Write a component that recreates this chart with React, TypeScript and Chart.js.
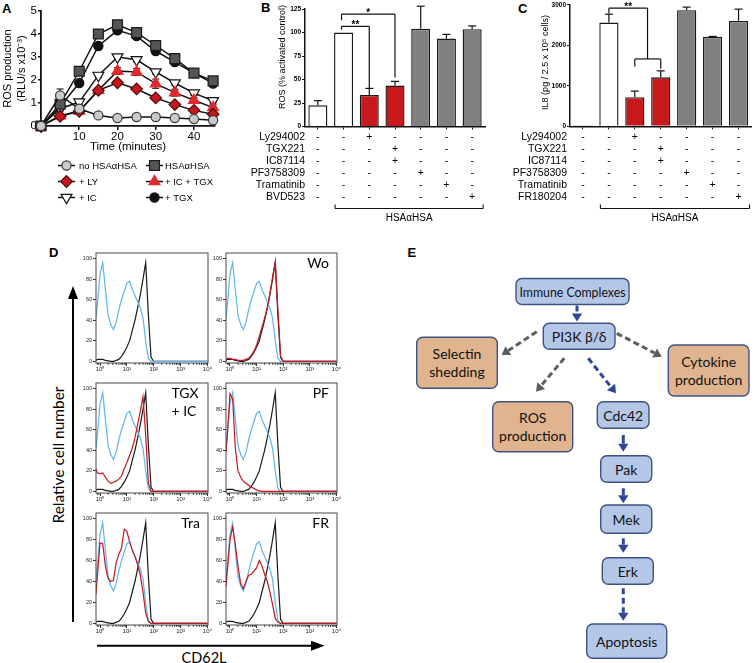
import React, { useEffect, useRef } from 'react';
import { Chart, registerables } from 'chart.js';

Chart.register(...registerables);

const SANS = '"Liberation Sans", Arial, Helvetica, sans-serif';
const HUM = 'Lato, "Open Sans", "DejaVu Sans", sans-serif';

// ================= Panel A data =================
const A_TIME = [0, 5, 10, 15, 20, 25, 30, 35, 40, 45];
const A_NO_HSA = [0, 1.33, 0.75, 0.46, 0.35, 0.39, 0.39, 0.35, 0.3, 0.25];
const A_NO_HSA_ERR = [0, 0.28, 0.1, 0.05, 0.04, 0.04, 0.04, 0.04, 0.04, 0.04];
const A_HSA = [0, 0.95, 2.38, 4.0, 4.4, 4.06, 3.5, 2.93, 2.3, 1.96];
const A_HSA_ERR = [0, 0.15, 0.15, 0.15, 0.12, 0.12, 0.12, 0.12, 0.12, 0.15];
const A_LY = [0, 0.42, 0.64, 1.55, 1.88, 1.61, 1.22, 0.93, 0.68, 0.51];
const A_LY_ERR = [0, 0.05, 0.08, 0.1, 0.1, 0.1, 0.1, 0.08, 0.06, 0.05];
const A_ICTGX = [0, 0.45, 0.65, 1.55, 2.39, 2.35, 1.84, 1.45, 1.12, 0.8];
const A_ICTGX_ERR = [0, 0.05, 0.08, 0.12, 0.15, 0.15, 0.2, 0.15, 0.12, 0.12];
const A_IC = [0, 0.75, 1.04, 2.2, 3.0, 2.88, 2.35, 1.87, 1.43, 1.1];
const A_IC_ERR = [0, 0.1, 0.1, 0.1, 0.1, 0.1, 0.1, 0.1, 0.1, 0.1];
const A_TGX = [0, 0.85, 1.87, 3.48, 4.16, 3.91, 3.26, 2.78, 2.3, 1.85];
const A_TGX_ERR = [0, 0.1, 0.08, 0.12, 0.12, 0.1, 0.12, 0.1, 0.1, 0.1];
const A_Y_TICKS = [0, 1, 2, 3, 4, 5];
const A_X_TICKS = [10, 20, 30, 40];

// ================= Panel B / C data =================
const BAR_CATS = ['Control', 'HSAαHSA', '+ Ly294002', '+ TGX221 + IC87114', '+ PF3758309', '+ Tramatinib', '+ MEK/ERK inhibitor'];
const B_VALUES = [22.5, 100, 33.5, 43.5, 104, 93.5, 103.5];
const B_ERRS = [5, 0, 7, 4.5, 24, 4.5, 3.5];
const B_Y_TICKS = [0, 25, 50, 75, 100, 125];
const C_VALUES = [25, 2565, 720, 1210, 2870, 2210, 2605];
const C_ERRS = [0, 205, 150, 160, 75, 10, 290];
const C_Y_TICKS = [0, 1000, 2000, 3000];
const B_TREAT_NAMES = ['Ly294002', 'TGX221', 'IC87114', 'PF3758309', 'Tramatinib', 'BVD523'];
const C_TREAT_NAMES = ['Ly294002', 'TGX221', 'IC87114', 'PF3758309', 'Tramatinib', 'FR180204'];
const TREAT_MATRIX = [
  [0, 0, 1, 0, 0, 0, 0],
  [0, 0, 0, 1, 0, 0, 0],
  [0, 0, 0, 1, 0, 0, 0],
  [0, 0, 0, 0, 1, 0, 0],
  [0, 0, 0, 0, 0, 1, 0],
  [0, 0, 0, 0, 0, 0, 1],
];
// significance brackets: [xFrom, xTo, yLine, dropFrom, dropTo, label]
const B_SIG = [
  [0.92, 2, 106.5, 103, 40, '**'],
  [0.92, 3, 119.5, 113, 52, '*'],
];
const C_SIG = [
  [1, 2.49, 2920, 2790, 1665, '**'],
  [2, 3, 1665, 1480, 1420, ''],
];

// ================= Panel D data =================
const D_X = [-0.15, -0.1, 0, 0.1, 0.2, 0.3, 0.4, 0.5, 0.6, 0.7, 0.8, 0.9, 1.0, 1.1, 1.2, 1.3, 1.4, 1.5, 1.6, 1.7, 1.8, 1.9, 2.0, 2.1, 2.2, 4.0];
const D_BLUE = [42, 55, 85, 96, 70, 45, 36, 31, 38, 50, 60, 68, 76, 78, 70, 64, 58, 52, 42, 20, 3, 0, 0, 0, 0, 0];
const D_BLACK = [1, 2, 2, 2, 1, 0.5, 0, 0, 1, 2, 5, 9, 14, 20, 30, 40, 52, 65, 80, 96, 45, 4, 0, 0, 0, 0];
const D_RED_WO = [2, 3, 3, 2, 2, 1, 1, 1, 2, 3, 6, 10, 16, 24, 33, 42, 52, 66, 82, 97, 50, 5, 0, 0, 0, 0];
const D_RED_TGX = [22, 18, 17, 18, 14, 10, 8, 9, 10, 12, 15, 22, 28, 35, 42, 52, 65, 78, 92, 55, 8, 0, 0, 0, 0, 0];
const D_RED_PF = [38, 55, 95, 90, 42, 20, 14, 10, 8, 6, 4, 3, 1.5, 0.5, 0, 0, 0, 0, 0, 0, 0, 0, 0, 0, 0, 0];
const D_RED_TRA = [28, 45, 77, 76, 55, 43, 40, 41, 58, 66, 72, 90, 88, 78, 70, 64, 56, 46, 30, 10, 2, 0, 0, 0, 0, 0];
const D_RED_FR = [35, 50, 80, 92, 75, 55, 38, 33, 40, 46, 47, 50, 53, 60, 55, 47, 40, 30, 18, 5, 1, 0, 0, 0, 0, 0];
const D_Y_TICKS = [0, 20, 40, 60, 80, 100];
const D_X_TICKS = [0, 1, 2, 3, 4];
const D_X_LABELS = ['10⁰', '10¹', '10²', '10³', '10⁴'];
const D_PANEL_LABELS = [[''], ['Wo'], ['TGX', '+ IC'], ['PF'], ['Tra'], ['FR']];
const D_REDS = [null, D_RED_WO, D_RED_TGX, D_RED_PF, D_RED_TRA, D_RED_FR];

// ================= Panel E content =================
const E_LABELS = [
  ['Immune Complexes'], ['PI3K β/δ'], ['Selectin', 'shedding'], ['Cytokine', 'production'],
  ['ROS', 'production'], ['Cdc42'], ['Pak'], ['Mek'], ['Erk'], ['Apoptosis'],
];

// ---------------- layout / style (not data) ----------------
const BLUE_FILL = '#b4c7e7';
const ORANGE_FILL = '#dfb48f';
const BOX_STROKE = '#3e5383';
const ARROW_BLUE = '#2f4896';
const ARROW_GRAY = '#5e5e5e';
const E_BOXES = [
  { x: 516, y: 278.5, w: 113, h: 26, fill: BLUE_FILL, tl: 106 },
  { x: 543.3, y: 323.3, w: 71.7, h: 26, fill: BLUE_FILL, tl: 0 },
  { x: 416.7, y: 337.3, w: 80.6, h: 51, fill: ORANGE_FILL, tl: 0 },
  { x: 668.3, y: 345, w: 80.7, h: 51, fill: ORANGE_FILL, tl: 0 },
  { x: 492.7, y: 401.7, w: 80, h: 50, fill: ORANGE_FILL, tl: 0 },
  { x: 597.3, y: 401.7, w: 51.7, h: 26.6, fill: BLUE_FILL, tl: 0 },
  { x: 600.7, y: 455.7, w: 51, h: 26.6, fill: BLUE_FILL, tl: 0 },
  { x: 600.7, y: 505, w: 51, h: 28.3, fill: BLUE_FILL, tl: 0 },
  { x: 602.3, y: 557.7, w: 51, h: 26.6, fill: BLUE_FILL, tl: 0 },
  { x: 586.7, y: 624, w: 80, h: 34.3, fill: BLUE_FILL, tl: 0 },
];
const E_ARROWS = [
  { x1: 577, y1: 305.5, x2: 577, y2: 321.5, c: ARROW_BLUE, dash: true },
  { x1: 536.7, y1: 331.7, x2: 501.7, y2: 355, c: ARROW_GRAY, dash: true },
  { x1: 616.7, y1: 333.3, x2: 661.7, y2: 356.7, c: ARROW_GRAY, dash: true },
  { x1: 564.3, y1: 358.3, x2: 536, y2: 391.7, c: ARROW_GRAY, dash: true },
  { x1: 588.3, y1: 358.3, x2: 616, y2: 393.3, c: ARROW_BLUE, dash: true },
  { x1: 623.3, y1: 435, x2: 623.3, y2: 451.7, c: ARROW_BLUE, dash: false },
  { x1: 623.3, y1: 488.3, x2: 623.3, y2: 503.3, c: ARROW_BLUE, dash: false },
  { x1: 623.3, y1: 538.3, x2: 623.3, y2: 552.7, c: ARROW_BLUE, dash: false },
  { x1: 623.3, y1: 588.3, x2: 623.3, y2: 620.7, c: ARROW_BLUE, dash: true },
];
const D_FRAMES = [
  { x: 96, y: 253, w: 112, h: 110 },
  { x: 226, y: 253, w: 111, h: 110 },
  { x: 96, y: 382.5, w: 112, h: 110.5 },
  { x: 226, y: 383, w: 111, h: 110 },
  { x: 96, y: 513, w: 112, h: 112 },
  { x: 226, y: 513, w: 111, h: 112 },
];

function drawMarker(ctx: CanvasRenderingContext2D, style: string, x: number, y: number, r: number, rotDeg: number, fill: string, stroke: string, lw: number) {
  ctx.save();
  ctx.beginPath();
  if (style === 'circle') {
    ctx.arc(x, y, r, 0, Math.PI * 2);
  } else if (style === 'rect') {
    const s = r * Math.SQRT1_2;
    ctx.rect(x - s, y - s, 2 * s, 2 * s);
  } else if (style === 'rectRot') {
    ctx.moveTo(x - r, y); ctx.lineTo(x, y - r); ctx.lineTo(x + r, y); ctx.lineTo(x, y + r); ctx.closePath();
  } else {
    let a = (rotDeg * Math.PI) / 180;
    for (let k = 0; k < 3; k++) {
      const px = x + Math.sin(a) * r, py = y - Math.cos(a) * r;
      if (k === 0) ctx.moveTo(px, py); else ctx.lineTo(px, py);
      a += (2 * Math.PI) / 3;
    }
    ctx.closePath();
  }
  ctx.fillStyle = fill; ctx.fill();
  ctx.lineWidth = lw; ctx.strokeStyle = stroke; ctx.stroke();
  ctx.restore();
}

function seg(ctx: CanvasRenderingContext2D, x1: number, y1: number, x2: number, y2: number) {
  ctx.beginPath(); ctx.moveTo(x1, y1); ctx.lineTo(x2, y2); ctx.stroke();
}

function ticksFrom(vals: number[]) {
  return (s: any) => { s.ticks = vals.map((v) => ({ value: v })); };
}

// ================= Chart builders =================
function makeA(canvas: HTMLCanvasElement) {
  const series = [
    { label: 'no HSAαHSA', data: A_NO_HSA, err: A_NO_HSA_ERR, style: 'circle', r: 4.6, rot: 0, fill: '#c9c9c9', stroke: '#3a3a3a' },
    { label: 'HSAαHSA', data: A_HSA, err: A_HSA_ERR, style: 'rect', r: 7, rot: 0, fill: '#555555', stroke: '#1c1c1c' },
    { label: '+ LY', data: A_LY, err: A_LY_ERR, style: 'rectRot', r: 5.8, rot: 0, fill: '#c8171d', stroke: '#4d0b0b' },
    { label: '+ IC + TGX', data: A_ICTGX, err: A_ICTGX_ERR, style: 'triangle', r: 6.3, rot: 0, fill: '#e0282d', stroke: '#e0282d' },
    { label: '+ IC', data: A_IC, err: A_IC_ERR, style: 'triangle', r: 6.3, rot: 180, fill: '#ffffff', stroke: '#111111' },
    { label: '+ TGX', data: A_TGX, err: A_TGX_ERR, style: 'circle', r: 4.6, rot: 0, fill: '#111111', stroke: '#111111' },
  ];
  const legendGrid = [[0, 0, 0], [1, 1, 0], [2, 0, 1], [3, 1, 1], [4, 0, 2], [5, 1, 2]];
  const plugin = {
    id: 'aExtras',
    beforeDatasetsDraw(chart: any) {
      const { ctx, scales } = chart;
      ctx.save();
      ctx.strokeStyle = '#111'; ctx.lineWidth = 1.1;
      series.forEach((s) => {
        s.data.forEach((v, j) => {
          const e = s.err[j]; if (!e) return;
          const x = scales.x.getPixelForValue(A_TIME[j]);
          const yt = scales.y.getPixelForValue(v + e), yb = scales.y.getPixelForValue(Math.max(0, v - e));
          seg(ctx, x, yt, x, yb); seg(ctx, x - 3.5, yt, x + 3.5, yt); seg(ctx, x - 3.5, yb, x + 3.5, yb);
        });
      });
      ctx.restore();
    },
    afterDraw(chart: any) {
      const { ctx, chartArea } = chart;
      ctx.save();
      ctx.fillStyle = '#000';
      ctx.font = `11px ${SANS}`;
      ctx.textAlign = 'center'; ctx.textBaseline = 'middle';
      const cy = (chartArea.top + chartArea.bottom) / 2;
      ctx.save(); ctx.translate(8, cy); ctx.rotate(-Math.PI / 2); ctx.fillText('ROS production', 0, 0); ctx.restore();
      ctx.save(); ctx.translate(22, cy); ctx.rotate(-Math.PI / 2); ctx.fillText('(RLU/s x10⁻³)', 0, 0); ctx.restore();
      ctx.font = `11.5px ${SANS}`;
      ctx.fillText('Time (minutes)', (chartArea.left + chartArea.right) / 2 + 0, 146.5);
      // legend
      const colLine = [[58, 75], [146, 163]];
      const colText = [79, 165];
      const rowY = [165.5, 181.5, 197.5];
      ctx.font = `9.5px ${SANS}`;
      ctx.textAlign = 'left';
      legendGrid.forEach(([i, c, r]) => {
        const s = series[i];
        const y = rowY[r];
        ctx.strokeStyle = '#111'; ctx.lineWidth = 1.5;
        seg(ctx, colLine[c][0], y, colLine[c][1], y);
        drawMarker(ctx, s.style, (colLine[c][0] + colLine[c][1]) / 2, y, s.r, s.rot, s.fill, s.stroke, 1.2);
        ctx.fillStyle = '#000';
        ctx.fillText(s.label, colText[c], y + 0.5);
      });
      ctx.restore();
    },
  };
  return new Chart(canvas, {
    type: 'line',
    data: {
      datasets: series.map((s) => ({
        label: s.label,
        data: A_TIME.map((t, j) => ({ x: t, y: s.data[j] })),
        borderColor: '#111', borderWidth: 1.5,
        pointStyle: s.style as any, pointRadius: s.r, pointRotation: s.rot,
        pointBackgroundColor: s.fill, pointBorderColor: s.stroke, pointBorderWidth: 1.2,
        clip: false as any, tension: 0,
      })),
    },
    options: {
      animation: false, responsive: false, devicePixelRatio: 1,
      layout: { padding: { left: 0, right: 25, top: 11, bottom: 0 }, autoPadding: false } as any,
      plugins: { legend: { display: false }, tooltip: { enabled: false } },
      scales: {
        x: {
          type: 'linear', min: 0, max: 45.5,
          afterBuildTicks: ticksFrom(A_X_TICKS) as any,
          afterFit: (s: any) => { s.height = 86; },
          grid: { drawOnChartArea: false, drawTicks: true, tickLength: 4, color: '#111', lineWidth: 1.5 },
          border: { color: '#111', width: 1.8 },
          ticks: { color: '#000', font: { family: SANS, size: 11.5 }, padding: 0, maxRotation: 0 },
        },
        y: {
          min: 0, max: 5,
          afterBuildTicks: ticksFrom(A_Y_TICKS) as any,
          afterFit: (s: any) => { s.width = 41; },
          grid: { drawOnChartArea: false, drawTicks: true, tickLength: 3, color: '#111', lineWidth: 1.5 },
          border: { color: '#111', width: 1.8 },
          ticks: { color: '#000', font: { family: SANS, size: 11.5 }, padding: 1 },
        },
      },
    },
    plugins: [plugin],
  } as any);
}

function makeBar(canvas: HTMLCanvasElement, spec: any) {
  const plugin = {
    id: 'barExtras',
    afterDatasetsDraw(chart: any) {
      const { ctx, scales, chartArea } = chart;
      const xs = scales.x, ys = scales.y;
      ctx.save();
      ctx.strokeStyle = '#111'; ctx.lineWidth = 1.2;
      spec.values.forEach((v: number, i: number) => {
        const e = spec.errs[i]; if (!e) return;
        const x = xs.getPixelForValue(i);
        const y0 = ys.getPixelForValue(v), y1 = ys.getPixelForValue(v + e);
        seg(ctx, x, y0, x, y1); seg(ctx, x - 4, y1, x + 4, y1);
      });
      // significance
      ctx.lineWidth = 1.2;
      spec.sig.forEach((s: any[]) => {
        const xa = xs.getPixelForValue(s[0]), xb = xs.getPixelForValue(s[1]);
        const yl = ys.getPixelForValue(s[2]);
        seg(ctx, xa, yl, xb, yl);
        seg(ctx, xa, yl, xa, ys.getPixelForValue(s[3]));
        seg(ctx, xb, yl, xb, ys.getPixelForValue(s[4]));
        if (s[5]) {
          ctx.fillStyle = '#000'; ctx.font = `bold 10px ${SANS}`; ctx.textAlign = 'center'; ctx.textBaseline = 'alphabetic';
          ctx.fillText(s[5], (xa + xb) / 2, yl + 2);
        }
      });
      // y title
      ctx.fillStyle = '#000';
      ctx.font = `9px ${SANS}`; ctx.textAlign = 'center'; ctx.textBaseline = 'middle';
      ctx.save(); ctx.translate(spec.titleX, spec.titleY); ctx.rotate(-Math.PI / 2); ctx.fillText(spec.title, 0, 0); ctx.restore();
      // treatment table
      ctx.font = `10.5px ${SANS}`;
      spec.names.forEach((name: string, r: number) => {
        const y = 137 + r * 12;
        ctx.textAlign = 'right';
        ctx.fillText(name, chartArea.left + spec.nameOffset, y);
        ctx.textAlign = 'center';
        TREAT_MATRIX[r].forEach((on, i) => ctx.fillText(on ? '+' : '-', xs.getPixelForValue(i), y));
      });
      // HSAaHSA bracket
      const bl = xs.getPixelForValue(1) - 8.5, br = xs.getPixelForValue(6) + 11;
      ctx.lineWidth = 1.1;
      seg(ctx, bl, 208.5, br, 208.5); seg(ctx, bl, 204.5, bl, 208.5); seg(ctx, br, 204.5, br, 208.5);
      ctx.font = `10px ${SANS}`;
      ctx.fillText('HSAαHSA', (bl + br) / 2, 218.5);
      ctx.restore();
    },
  };
  return new Chart(canvas, {
    type: 'bar',
    data: {
      labels: BAR_CATS,
      datasets: [{
        data: spec.values,
        backgroundColor: spec.colors, borderColor: '#1a1a1a', borderWidth: 1.4,
        barPercentage: 0.74, categoryPercentage: 1,
      }],
    },
    options: {
      animation: false, responsive: false, devicePixelRatio: 1,
      layout: { padding: { left: 0, right: spec.padRight, top: spec.padTop, bottom: 0 }, autoPadding: false } as any,
      plugins: { legend: { display: false }, tooltip: { enabled: false } },
      scales: {
        x: {
          type: 'category', offset: true,
          afterFit: (s: any) => { s.height = spec.xH; },
          grid: { offset: false, drawOnChartArea: false, drawTicks: true, tickLength: 3, color: '#111', lineWidth: 1 },
          border: { color: '#111', width: 1.5 },
          ticks: { display: false },
        },
        y: {
          min: 0, max: spec.max,
          afterBuildTicks: ticksFrom(spec.yTicks) as any,
          afterFit: (s: any) => { s.width = 65; },
          grid: { drawOnChartArea: false, drawTicks: true, tickLength: 3, color: '#111', lineWidth: 1 },
          border: { color: '#111', width: 1.5 },
          ticks: { color: '#000', font: { family: SANS, size: 6.5, weight: 'bold' }, padding: 1, callback: (v: any) => String(v) },
        },
      },
    },
    plugins: [plugin],
  } as any);
}

function makeHist(canvas: HTMLCanvasElement, idx: number) {
  const red = D_REDS[idx];
  const mk = (arr: number[], color: string) => ({
    data: D_X.map((x, i) => ({ x, y: arr[i] })), borderColor: color, borderWidth: 1.2,
    pointRadius: 0, tension: 0, fill: false,
  });
  const datasets: any[] = [];
  if (red) datasets.push(mk(red, '#c4161c'));
  datasets.push(mk(D_BLUE, '#5fb5ec'));
  datasets.push(mk(D_BLACK, '#1b1b1b'));
  const labels = D_PANEL_LABELS[idx];
  const plugin = {
    id: 'histExtras',
    afterDraw(chart: any) {
      const { ctx, chartArea, scales } = chart;
      ctx.save();
      ctx.strokeStyle = '#4a4a4a'; ctx.lineWidth = 1;
      ctx.strokeRect(chartArea.left, chartArea.top, chartArea.right - chartArea.left, chartArea.bottom - chartArea.top);
      // minor log ticks
      ctx.strokeStyle = '#333';
      for (let n = -1; n < 4; n++) {
        for (let k = 2; k <= 9; k++) {
          const v = n + Math.log10(k);
          if (v < scales.x.min || v > scales.x.max) continue;
          const x = scales.x.getPixelForValue(v);
          seg(ctx, x, chartArea.bottom, x, chartArea.bottom + 1.8);
        }
      }
      ctx.fillStyle = '#000';
      ctx.font = `14px ${HUM}`;
      ctx.textBaseline = 'alphabetic';
      if (labels.length === 1) {
        ctx.textAlign = 'right';
        ctx.fillText(labels[0], chartArea.right - 8, chartArea.top + 15);
      } else {
        ctx.textAlign = 'left';
        labels.forEach((t, i) => ctx.fillText(t, chartArea.right - 36.5, chartArea.top + 14.5 + i * 18.5));
      }
      ctx.restore();
    },
  };
  return new Chart(canvas, {
    type: 'line',
    data: { datasets },
    options: {
      animation: false, responsive: false, devicePixelRatio: 1,
      layout: { padding: { left: 0, right: 6, top: 6, bottom: 0 }, autoPadding: false } as any,
      plugins: { legend: { display: false }, tooltip: { enabled: false } },
      scales: {
        x: {
          type: 'linear', min: -0.15, max: 4.02,
          afterBuildTicks: ticksFrom(D_X_TICKS) as any,
          afterFit: (s: any) => { s.height = 14; },
          grid: { drawOnChartArea: false, drawTicks: true, tickLength: 3, color: '#333', lineWidth: 1 },
          border: { display: false },
          ticks: { color: '#222', font: { family: SANS, size: 6 }, padding: 0, maxRotation: 0, callback: (v: any) => D_X_LABELS[Math.round(v)] },
        },
        y: {
          min: -1.5, max: 105.4,
          afterBuildTicks: ticksFrom(D_Y_TICKS) as any,
          afterFit: (s: any) => { s.width = 28; },
          grid: { drawOnChartArea: false, drawTicks: true, tickLength: 3, color: '#333', lineWidth: 1 },
          border: { display: false },
          ticks: { color: '#222', font: { family: SANS, size: 5.5 }, padding: 1 },
        },
      },
    },
    plugins: [plugin],
  } as any);
}

function Arrow(p: any) {
  const { x1, y1, x2, y2, c, dash } = p;
  const head = 8, hw = 5.2;
  const dx = x2 - x1, dy = y2 - y1, L = Math.hypot(dx, dy);
  const ux = dx / L, uy = dy / L;
  const bx = x2 - ux * head, by = y2 - uy * head;
  const px = -uy, py = ux;
  return (
    <g>
      <line x1={x1} y1={y1} x2={bx} y2={by} stroke={c} strokeWidth={3} strokeDasharray={dash ? '6 3.5' : undefined} />
      <polygon points={`${x2},${y2} ${bx + px * hw},${by + py * hw} ${bx - px * hw},${by - py * hw}`} fill={c} />
    </g>
  );
}

export default function App() {
  const aRef = useRef<HTMLCanvasElement>(null);
  const bRef = useRef<HTMLCanvasElement>(null);
  const cRef = useRef<HTMLCanvasElement>(null);
  const dRefs = useRef<(HTMLCanvasElement | null)[]>([]);

  useEffect(() => {
    const charts: Chart[] = [];
    charts.push(makeA(aRef.current!));
    charts.push(makeBar(bRef.current!, {
      values: B_VALUES, errs: B_ERRS, sig: B_SIG, max: 125, yTicks: B_Y_TICKS,
      colors: ['#ffffff', '#ffffff', '#c8191d', '#c8191d', '#808080', '#808080', '#808080'],
      names: B_TREAT_NAMES, nameOffset: 0, title: 'ROS (% activated control)', titleX: 42.7, titleY: 57,
      padRight: 20, padTop: 9, xH: 98.5,
    }));
    charts.push(makeBar(cRef.current!, {
      values: C_VALUES, errs: C_ERRS, sig: C_SIG, max: 3000, yTicks: C_Y_TICKS,
      colors: ['#ffffff', '#ffffff', '#c8191d', '#c8191d', '#808080', '#808080', '#808080'],
      names: C_TREAT_NAMES, nameOffset: -3, title: 'IL8 (pg / 2.5 x 10⁵ cells)', titleX: 41, titleY: 62.5,
      padRight: 2.5, padTop: 4.3, xH: 98.7,
    }));
    D_FRAMES.forEach((_, i) => { charts.push(makeHist(dRefs.current[i]!, i)); });
    return () => charts.forEach((c) => c.destroy());
  }, []);

  const labelStyle = { fontFamily: SANS, fontWeight: 700, fontSize: 13 } as any;

  return (
    <div style={{ position: 'fixed', left: 0, top: 0, width: 754, height: 663, background: '#fff', overflow: 'hidden' }}>
      <svg width={754} height={663} style={{ position: 'absolute', left: 0, top: 0 }}>
        <text x={2} y={12.7} style={labelStyle}>A</text>
        <text x={261} y={12} style={labelStyle}>B</text>
        <text x={518} y={12.7} style={labelStyle}>C</text>
        <text x={49} y={256.5} style={labelStyle}>D</text>
        <text x={407.5} y={256.5} style={labelStyle}>E</text>
        {/* D axis arrows */}
        <line x1={73} y1={622} x2={73} y2={298} stroke="#000" strokeWidth={2} />
        <polygon points="73,286 68,299 78,299" fill="#000" />
        <line x1={97} y1={645.7} x2={312} y2={645.7} stroke="#000" strokeWidth={2} />
        <polygon points="324.5,645.7 311,640.7 311,650.7" fill="#000" />
        <text x={0} y={0} transform="translate(57,455) rotate(-90)" textAnchor="middle" dominantBaseline="central"
          style={{ fontFamily: HUM, fontSize: 16 }} textLength={137} lengthAdjust="spacingAndGlyphs">Relative cell number</text>
        <text x={204} y={662.5} textAnchor="middle" style={{ fontFamily: HUM, fontSize: 16 }} textLength={45} lengthAdjust="spacingAndGlyphs">CD62L</text>
        {/* E diagram */}
        {E_ARROWS.map((a, i) => <Arrow key={'a' + i} {...a} />)}
        {E_BOXES.map((b, i) => (
          <g key={'b' + i}>
            <rect x={b.x} y={b.y} width={b.w} height={b.h} rx={6} ry={6} fill={b.fill} stroke={BOX_STROKE} strokeWidth={1.4} />
            {E_LABELS[i].map((t, k) => (
              <text key={k} x={b.x + b.w / 2} y={b.y + b.h / 2 + (k - (E_LABELS[i].length - 1) / 2) * 18.3}
                textAnchor="middle" dominantBaseline="central" style={{ fontFamily: HUM, fontSize: 14 }} fill="#111"
                {...(b.tl ? { textLength: b.tl, lengthAdjust: 'spacingAndGlyphs' } : {})}>{t}</text>
            ))}
          </g>
        ))}
      </svg>
      <canvas ref={aRef} width={240} height={212} style={{ position: 'absolute', left: 0, top: 0 }} />
      <canvas ref={bRef} width={265} height={225} style={{ position: 'absolute', left: 240, top: 0 }} />
      <canvas ref={cRef} width={249} height={225} style={{ position: 'absolute', left: 505, top: 0 }} />
      {D_FRAMES.map((f, i) => (
        <canvas key={i} ref={(el) => { dRefs.current[i] = el; }} width={f.w + 34} height={f.h + 20}
          style={{ position: 'absolute', left: f.x - 28, top: f.y - 6 }} />
      ))}
    </div>
  );
}
